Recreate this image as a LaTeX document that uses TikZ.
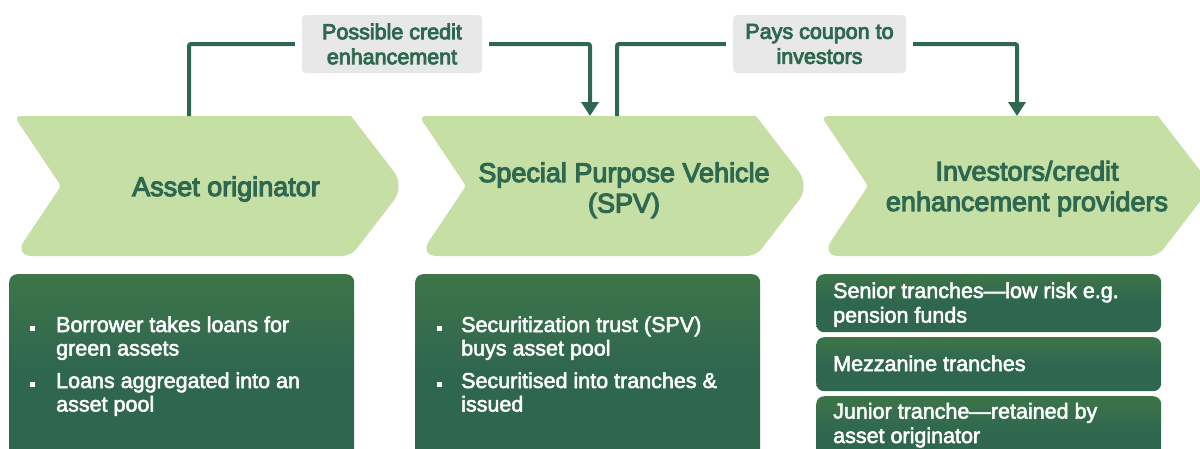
\documentclass[tikz,border=0pt]{standalone}
\usepackage{fontspec}
\setmainfont{Liberation Sans}
\newfontfamily\medfont[FakeBold=4]{Liberation Sans}
\newfontfamily\itmfont[FakeBold=2.5]{Liberation Sans}
\usetikzlibrary{arrows.meta}
\definecolor{chevfill}{HTML}{C5DFA5}
\definecolor{dkgreen}{HTML}{2E6850}
\definecolor{boxlt}{HTML}{4A8440}
\definecolor{boxdk}{HTML}{2F6650}
\definecolor{labfill}{HTML}{E8E8E8}
\pgfdeclareverticalshading{boxsh}{100bp}{color(0bp)=(boxdk); color(50bp)=(boxdk); color(100bp)=(boxlt)}
\begin{document}
\begin{tikzpicture}[x=1pt,y=-1pt,
  chev/.pic={\fill[chevfill] (150,0) -- (337,0) [rounded corners=18] -- (391,70) [rounded corners=9] -- (337,140) [rounded corners=18] -- (0,140) [rounded corners=3] -- (47,70) [rounded corners=7] -- (0,0) [rounded corners=3] -- cycle;},
  head/.style={font=\medfont\fontsize{27}{30.5}\selectfont, text=dkgreen, align=center, inner sep=0pt},
  lab/.style={fill=labfill, rounded corners=4pt, minimum height=58pt, inner sep=0pt, align=center, text=dkgreen, font=\medfont\fontsize{21.5}{25}\selectfont},
  gbox/.style={shading=boxsh, rounded corners=8pt, minimum width=345pt, inner sep=0pt, anchor=north west},
  itm/.style={font=\itmfont\fontsize{21.5}{23.5}\selectfont, text=white, align=left, inner sep=0pt, anchor=base west},
  itmb/.style={itm, font=\itmfont\fontsize{21.5}{24.5}\selectfont},
  bul/.style={fill=white},
  conn/.style={draw=dkgreen, line width=4pt, rounded corners=2pt},
  tip/.style={-{Triangle[width=17pt,length=14pt]}}
]
\useasboundingbox (0,0) rectangle (1200,448);
\clip (0,0) rectangle (1200,448);

% chevrons
\pic at (14,116) {chev};
\pic at (419,116) {chev};
\pic at (821,116) {chev};
% (base anchor of a multi-line node = baseline of its last line)
\node[head, anchor=base] (hA) at (226,196) {Asset originator};
\node[head, anchor=base] (hB) at (624,212.5) {Special Purpose Vehicle\\(SPV)};
\node[head, anchor=base] (hC) at (1027,211) {Investors/credit\\enhancement providers};

% connection points on chevrons
\coordinate (aOut) at (189,116);
\coordinate (bIn) at (590,116);
\coordinate (bOut) at (617,116);
\coordinate (cIn) at (1017,116);

% labels
\node[lab, minimum width=180pt] (l1) at (392,44) {Possible credit\\enhancement};
\node[lab, minimum width=173pt] (l2) at (819.5,44) {Pays coupon to\\investors};

% connectors
\draw[conn] (aOut) |- ([xshift=-7pt]l1.west);
\draw[conn, tip] ([xshift=7pt]l1.east) -| (bIn);
\draw[conn] (bOut) |- ([xshift=-7pt]l2.west);
\draw[conn, tip] ([xshift=7pt]l2.east) -| (cIn);

% bottom boxes
\node[gbox, minimum height=196pt] (b1) at (9,274) {};
\node[gbox, minimum height=196pt] (b2) at (415,274) {};
\node[gbox, minimum height=58pt] (b3a) at (816,274) {};
\node[gbox, minimum height=54pt] (b3b) at (816,337) {};
\node[gbox, minimum height=74pt] (b3c) at (816,396) {};

% box 1 items
\fill[bul] (29.5,325.5) rectangle (34.5,330.5);
\node[itm] (t1a) at (56,355.5) {Borrower takes loans for\\green assets};
\fill[bul] (29.5,381.5) rectangle (34.5,386.5);
\node[itm] (t1b) at (56,411.5) {Loans aggregated into an\\asset pool};

% box 2 items
\fill[bul] (436.5,325.5) rectangle (441.5,330.5);
\node[itm] (t2a) at (461,355.5) {Securitization trust (SPV)\\buys asset pool};
\fill[bul] (436.5,381.5) rectangle (441.5,386.5);
\node[itm] (t2b) at (461,411.5) {Securitised into tranches \&\\issued};

% box 3 items
\node[itmb] (t3a) at (833,322.5) {Senior tranches—low risk e.g.\\pension funds};
\node[itmb] (t3b) at (833,371) {Mezzanine tranches};
\node[itmb] (t3c) at (833,443) {Junior tranche—retained by\\asset originator};
\end{tikzpicture}
\end{document}
